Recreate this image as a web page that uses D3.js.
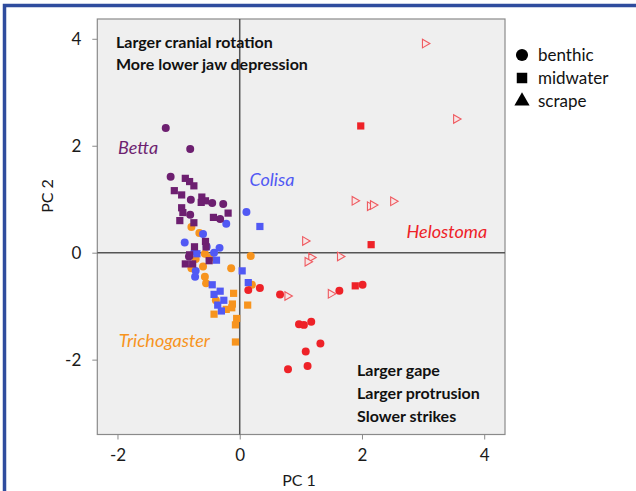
<!DOCTYPE html>
<html><head><meta charset="utf-8">
<script src="https://cdn.jsdelivr.net/npm/d3@7"></script>
<style>html,body{margin:0;padding:0;background:#fff;}svg{display:block;font-family:Lato,"Open Sans",sans-serif;}</style>
</head><body>
<svg id="c" width="636" height="491"></svg>
<script>
// ---- data (PC1, PC2) ----
const xTicks = [-2, 0, 2, 4];
const yTicks = [-2, 0, 2, 4];
const bettaBenthic = [[-1.21,2.33],[-0.81,1.94],[-1.13,1.42],[-0.80,0.99],[-0.27,0.91],[-0.81,0.71],[-0.32,0.63],[-0.83,-0.07],[-0.45,0.93]];
const bettaMidwater = [[-0.89,1.39],[-0.82,1.33],[-0.75,1.25],[-1.07,1.16],[-0.95,1.08],[-0.62,1.04],[-0.56,0.97],[-0.63,0.94],[-0.95,0.84],[-0.93,0.75],[-0.98,0.60],[-0.75,0.56],[-0.43,0.66],[-0.19,0.74],[-0.56,0.21],[-0.55,0.11],[-0.74,0.11],[-0.82,-0.04],[-0.89,-0.21],[-0.77,-0.21],[-0.50,-0.15]];
const colisaBenthic = [[0.11,0.76],[-0.22,0.54],[-0.90,0.19],[-0.60,0.35],[-0.33,0.09],[-0.42,0.00],[-0.74,0.02],[-0.72,-0.34],[-0.73,-0.45],[-0.54,0.11]];
const colisaMidwater = [[0.33,0.49],[-0.38,-0.14],[0.04,-0.34],[0.14,-0.56],[-0.45,-0.60],[-0.32,-0.72],[-0.42,-0.78],[-0.26,-0.89],[-0.36,-0.98],[-0.30,-1.09],[-0.70,-0.02]];
const trichoBenthic = [[-0.79,0.48],[-0.66,0.37],[-0.72,-0.12],[-0.79,-0.29],[-0.60,-0.26],[-0.57,-0.45],[-0.55,-0.57],[-0.14,-0.29],[0.18,-0.06],[-0.49,-0.10],[0.20,-0.60],[-0.39,-0.89],[-0.57,-0.02]];
const trichoMidwater = [[-0.10,-0.76],[0.13,-0.98],[-0.12,-0.96],[-0.13,-1.03],[-0.22,-1.06],[-0.42,-1.15],[-0.05,-1.23],[-0.07,-1.35],[-0.07,-1.67]];
const heloBenthic = [[0.14,-0.70],[0.33,-0.66],[0.66,-0.78],[1.63,-0.71],[2.01,-0.60],[0.97,-1.34],[1.05,-1.35],[1.17,-1.29],[1.32,-1.70],[1.08,-1.85],[1.11,-2.12],[0.79,-2.18]];
const heloMidwater = [[1.98,2.37],[2.15,0.15],[1.89,-0.62]];
const heloScrape = [[3.03,3.91],[3.54,2.50],[1.88,0.97],[2.13,0.87],[2.18,0.89],[2.51,0.96],[1.07,0.22],[1.17,-0.09],[1.11,-0.17],[1.64,-0.07],[1.49,-0.77],[0.78,-0.81]];
const speciesLabels = ["Betta","Colisa","Helostoma","Trichogaster"];
const speciesPos = [[-1.99,1.84],[0.16,1.24],[2.73,0.27],[-1.98,-1.77]];
const habitatLabels = ["benthic","midwater","scrape"];
const topNotes = ["Larger cranial rotation","More lower jaw depression"];
const bottomNotes = ["Larger gape","Larger protrusion","Slower strikes"];

const colors = {Betta:"#6d1f70", Colisa:"#5159f4", Helostoma:"#ee2228", Trichogaster:"#f7941e"};

const svg = d3.select("#c");
// frame
svg.append("rect").attr("x",4.5).attr("y",5.5).attr("width",800).attr("height",700)
  .attr("fill","none").attr("stroke","#2f4c9e").attr("stroke-width",3.5);

const x = d3.scaleLinear().domain([-2.33,4.34]).range([97.3,505]);
const y = d3.scaleLinear().domain([-3.40,4.37]).range([434.5,19]);

svg.append("rect").attr("x",x.range()[0]).attr("y",y.range()[1])
  .attr("width",x.range()[1]-x.range()[0]).attr("height",y.range()[0]-y.range()[1])
  .attr("fill","#efefef").attr("stroke","#8a8a8a").attr("stroke-width",1.2);

// axes
const gx = svg.append("g").attr("transform",`translate(0,${y.range()[0]})`)
  .call(d3.axisBottom(x).tickValues(xTicks).tickSize(5).tickPadding(9).tickFormat(d3.format("d")));
const gy = svg.append("g").attr("transform",`translate(${x.range()[0]},0)`)
  .call(d3.axisLeft(y).tickValues(yTicks).tickSize(5).tickPadding(11).tickFormat(d3.format("d")));
[gx,gy].forEach(g=>{
  g.select(".domain").remove();
  g.selectAll(".tick line").attr("stroke","#8a8a8a");
  g.selectAll(".tick text").attr("fill","#1a1a1a").style("font-size","17px").style("font-family","Lato, sans-serif");
});
gx.selectAll(".tick text").text(d=>d<0?"-"+Math.abs(d):d);
gy.selectAll(".tick text").text(d=>d<0?"-"+Math.abs(d):d);

// zero lines
svg.append("line").attr("x1",x(0)).attr("x2",x(0)).attr("y1",y.range()[1]).attr("y2",y.range()[0])
  .attr("stroke","#555").attr("stroke-width",1.5);
svg.append("line").attr("x1",x.range()[0]).attr("x2",x.range()[1]).attr("y1",y(0)).attr("y2",y(0))
  .attr("stroke","#555").attr("stroke-width",1.5);

// axis titles
svg.append("text").attr("x",299).attr("y",486).attr("text-anchor","middle")
  .style("font-size","16px").attr("fill","#1a1a1a").text("PC 1");
svg.append("text").attr("transform","translate(53,196) rotate(-90)").attr("text-anchor","middle")
  .style("font-size","16px").attr("fill","#1a1a1a").text("PC 2");

// notes
const tn = svg.append("text").attr("x",116).attr("y",48).style("font-size","16px").style("font-weight","bold").attr("fill","#111");
topNotes.forEach((t,i)=>tn.append("tspan").attr("x",116).attr("dy",i?22:0).text(t));
const bn = svg.append("text").attr("x",357).attr("y",376).style("font-size","16px").style("font-weight","bold").attr("fill","#111");
bottomNotes.forEach((t,i)=>bn.append("tspan").attr("x",357).attr("dy",i?23:0).text(t));

// points
const sym = (type,size)=>d3.symbol().type(type).size(size)();
function drawPts(data, type, color, size){
  svg.append("g").selectAll("path").data(data).join("path")
    .attr("transform",d=>`translate(${x(d[0])},${y(d[1])})`)
    .attr("d",sym(type,size)).attr("fill",color);
}
drawPts(trichoBenthic, d3.symbolCircle, colors.Trichogaster, 50);
drawPts(trichoMidwater, d3.symbolSquare, colors.Trichogaster, 52);
drawPts(colisaBenthic, d3.symbolCircle, colors.Colisa, 50);
drawPts(colisaMidwater, d3.symbolSquare, colors.Colisa, 52);
drawPts(bettaBenthic, d3.symbolCircle, colors.Betta, 50);
drawPts(bettaMidwater, d3.symbolSquare, colors.Betta, 52);
drawPts(heloBenthic, d3.symbolCircle, colors.Helostoma, 50);
drawPts(heloMidwater, d3.symbolSquare, colors.Helostoma, 52);
svg.append("g").selectAll("path").data(heloScrape).join("path")
  .attr("transform",d=>`translate(${x(d[0])},${y(d[1])}) rotate(90)`)
  .attr("d",sym(d3.symbolTriangle,32)).attr("fill","#f6e6e6").attr("stroke","#ef5a60").attr("stroke-width",1.1);

// species labels
speciesLabels.forEach((s,i)=>{
  svg.append("text").attr("x",x(speciesPos[i][0])).attr("y",y(speciesPos[i][1]))
    .style("font-size","18px").style("font-style","italic").attr("fill",colors[s]).text(s);
});

// legend
const legShapes = [d3.symbolCircle, d3.symbolSquare, d3.symbolTriangle];
const legSizes = [115, 110, 100];
habitatLabels.forEach((h,i)=>{
  const ly = 55 + i*23;
  svg.append("path").attr("transform",`translate(522,${ly})`).attr("d",sym(legShapes[i],legSizes[i])).attr("fill","#000");
  svg.append("text").attr("x",538).attr("y",ly+6).style("font-size","17px").attr("fill","#111").text(h);
});
</script>
</body></html>
